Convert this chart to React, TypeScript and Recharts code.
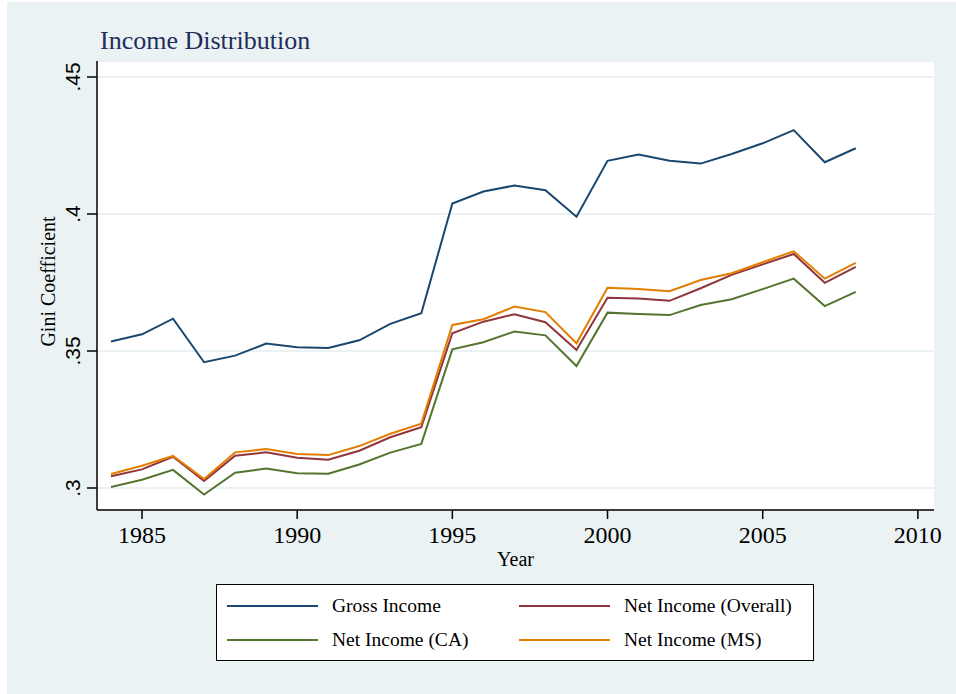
import { LineChart, Line, XAxis, YAxis, CartesianGrid, Legend, Label } from 'recharts';

const years = [
  1984, 1985, 1986, 1987, 1988, 1989, 1990, 1991, 1992, 1993, 1994, 1995,
  1996, 1997, 1998, 1999, 2000, 2001, 2002, 2003, 2004, 2005, 2006, 2007, 2008,
];

const grossIncome = [
  0.3535, 0.3561, 0.3618, 0.3459, 0.3483, 0.3527, 0.3514, 0.3511, 0.3539, 0.3599, 0.3638, 0.4038,
  0.4082, 0.4104, 0.4087, 0.399, 0.4194, 0.4217, 0.4194, 0.4184, 0.4219, 0.4258, 0.4306, 0.4189, 0.424,
];

const netOverall = [
  0.3043, 0.3068, 0.3114, 0.3026, 0.3118, 0.313, 0.311, 0.3103, 0.3136, 0.3185, 0.3222, 0.3565,
  0.3607, 0.3634, 0.3605, 0.3504, 0.3694, 0.3692, 0.3683, 0.3729, 0.3778, 0.3816, 0.3854, 0.3749, 0.3807,
];

const netCA = [
  0.3004, 0.303, 0.3066, 0.2976, 0.3056, 0.3071, 0.3054, 0.3052, 0.3086, 0.3129, 0.3161, 0.3506,
  0.3532, 0.3571, 0.3557, 0.3445, 0.364, 0.3635, 0.3631, 0.3668, 0.3689, 0.3726, 0.3764, 0.3664, 0.3716,
];

const netMS = [
  0.3051, 0.3081, 0.3117, 0.3033, 0.313, 0.3142, 0.3124, 0.312, 0.3153, 0.3198, 0.3235, 0.3595,
  0.3616, 0.3662, 0.3642, 0.3528, 0.3731, 0.3726, 0.3718, 0.3759, 0.3784, 0.3824, 0.3864, 0.3764, 0.3822,
];

const xTicks = [1985, 1990, 1995, 2000, 2005, 2010];
const yTicks = [0.3, 0.35, 0.4, 0.45];
const yTickLabels = ['.3', '.35', '.4', '.45'];

const series = [
  { key: 'gross', name: 'Gross Income', color: '#1a476f' },
  { key: 'overall', name: 'Net Income (Overall)', color: '#90353b' },
  { key: 'ca', name: 'Net Income (CA)', color: '#55752f' },
  { key: 'ms', name: 'Net Income (MS)', color: '#e37e00' },
];

const data = years.map((year, i) => ({
  year,
  gross: grossIncome[i],
  overall: netOverall[i],
  ca: netCA[i],
  ms: netMS[i],
}));

const BG = '#eaf2f3';
const SERIF = '"Liberation Serif", "Times New Roman", serif';
const SANS = '"Liberation Sans", Arial, sans-serif';

function YTick(props: any) {
  const { x, y, payload } = props;
  const idx = yTicks.indexOf(payload.value);
  const tx = x + 3;
  return (
    <text
      x={tx}
      y={y}
      transform={`rotate(-90, ${tx}, ${y})`}
      textAnchor="middle"
      fontFamily={SANS}
      fontSize={21}
      fill="#000"
    >
      {idx >= 0 ? yTickLabels[idx] : payload.value}
    </text>
  );
}

function XTick(props: any) {
  const { x, y, payload } = props;
  return (
    <text x={x} y={y + 17} textAnchor="middle" fontFamily={SERIF} fontSize={24} fill="#000">
      {payload.value}
    </text>
  );
}

function StataLegend() {
  // two columns, two rows, like the Stata legend box
  return (
    <div
      style={{
        width: 598,
        height: 77,
        boxSizing: 'border-box',
        border: '1.5px solid #000',
        background: '#fff',
        position: 'relative',
        fontFamily: SERIF,
        fontSize: 19.5,
        color: '#000',
      }}
    >
      {series.map((s, i) => {
        const col = i % 2;
        const row = Math.floor(i / 2);
        const left = col === 0 ? 10 : 302;
        const top = row === 0 ? 21 : 55;
        return (
          <div key={s.key} style={{ position: 'absolute', left, top: top - 12, height: 24, display: 'flex', alignItems: 'center' }}>
            <div style={{ width: 91, height: 2, background: s.color }} />
            <span style={{ marginLeft: 14, whiteSpace: 'nowrap' }}>{s.name}</span>
          </div>
        );
      })}
    </div>
  );
}

export default function App() {
  return (
    <div style={{ position: 'absolute', left: 7, top: 2, width: 949, height: 692, background: BG }}>
      <div
        style={{
          position: 'absolute',
          left: 93,
          top: 24,
          fontFamily: SERIF,
          fontSize: 26,
          color: '#1e2d5c',
          whiteSpace: 'nowrap',
        }}
      >
        Income Distribution
      </div>
      <LineChart
        width={949}
        height={692}
        data={data}
        margin={{ top: 59, right: 22, bottom: 124, left: 30 }}
      >
        <CartesianGrid vertical={false} fill="#fff" stroke={BG} strokeWidth={2} />
        <XAxis
          dataKey="year"
          type="number"
          domain={[1983.55, 2010.52]}
          ticks={xTicks}
          allowDataOverflow
          height={60}
          tickSize={9}
          tickMargin={7}
          axisLine={{ stroke: '#000', strokeWidth: 1.5 }}
          tickLine={{ stroke: '#000', strokeWidth: 1.5 }}
          tick={<XTick />}
        >
          <Label
            content={({ viewBox }: any) => (
              <text
                x={viewBox.x + viewBox.width / 2}
                y={viewBox.y + 56}
                textAnchor="middle"
                fontFamily={SERIF}
                fontSize={20}
                fill="#000"
              >
                Year
              </text>
            )}
          />
        </XAxis>
        <YAxis
          type="number"
          domain={[0.29197, 0.45584]}
          ticks={yTicks}
          allowDataOverflow
          width={60}
          tickSize={10}
          tickMargin={10}
          axisLine={{ stroke: '#000', strokeWidth: 1.5 }}
          tickLine={{ stroke: '#000', strokeWidth: 1.5 }}
          tick={<YTick />}
        >
          <Label
            content={({ viewBox }: any) => {
              const cx = viewBox.x + viewBox.width - 42;
              const cy = viewBox.y + viewBox.height / 2 - 4;
              return (
                <text
                  x={cx}
                  y={cy}
                  transform={`rotate(-90, ${cx}, ${cy})`}
                  textAnchor="middle"
                  fontFamily={SERIF}
                  fontSize={20}
                  fill="#000"
                >
                  Gini Coefficient
                </text>
              );
            }}
          />
        </YAxis>
        <Legend
          layout="vertical"
          verticalAlign="middle"
          align="center"
          wrapperStyle={{ left: 209, top: 582, width: 598, height: 77 }}
          content={() => <StataLegend />}
        />
        {series.map((s) => (
          <Line
            key={s.key}
            type="linear"
            dataKey={s.key}
            name={s.name}
            stroke={s.color}
            strokeWidth={2}
            dot={false}
            activeDot={false}
            isAnimationActive={false}
          />
        ))}
      </LineChart>
    </div>
  );
}
